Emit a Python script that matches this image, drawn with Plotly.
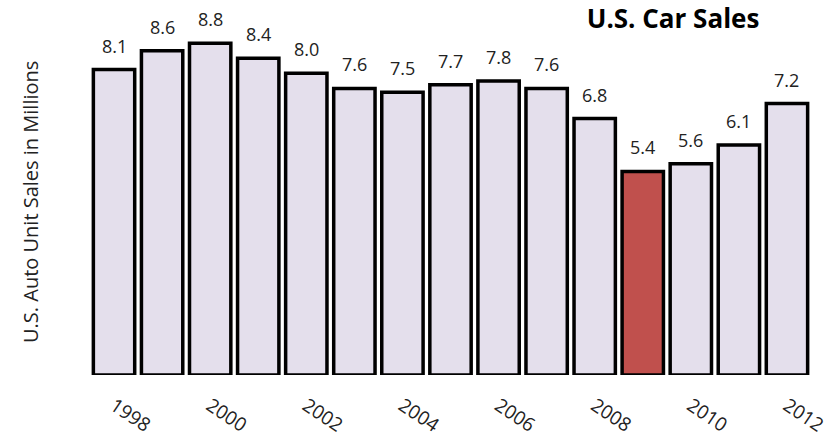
import plotly.graph_objects as go

years = list(range(1998, 2013))
sales = [8.1, 8.6, 8.8, 8.4, 8.0, 7.6, 7.5, 7.7, 7.8, 7.6, 6.8, 5.4, 5.6, 6.1, 7.2]
highlight_year = 2009
tick_years = [1998, 2000, 2002, 2004, 2006, 2008, 2010, 2012]

FONT = "Open Sans"
base_color = "#E4DFEC"
hi_color = "#C0504D"
colors = [hi_color if y == highlight_year else base_color for y in years]

fig = go.Figure(go.Bar(
    x=years, y=sales,
    marker=dict(color=colors, line=dict(color="black", width=3.5)),
    width=0.86,
    hoverinfo="x+y",
))

for y, v in zip(years, sales):
    fig.add_annotation(x=y, y=v, text=f"{v:.1f}", showarrow=False,
                       yanchor="middle", yshift=24,
                       font=dict(family=FONT, size=18, color="#222"))

fig.add_annotation(xref="paper", yref="paper", x=-0.104, y=0.5,
                   text="U.S. Auto Unit Sales in Millions", textangle=-90,
                   showarrow=False, font=dict(family=FONT, size=20, color="#222"))

fig.update_layout(
    width=833, height=438,
    margin=dict(l=90, r=22, t=30, b=63),
    paper_bgcolor="white", plot_bgcolor="white",
    showlegend=False,
    title=dict(text="<b>U.S. Car Sales</b>", x=0.808, y=0.957,
               xanchor="center", yanchor="middle",
               font=dict(family=FONT, size=26, color="black")),
    xaxis=dict(range=[1997.5, 2012.5], tickmode="array", tickvals=tick_years,
               ticktext=[str(t) for t in tick_years], tickangle=34,
               showgrid=False, zeroline=False, showline=False, ticks="",
               ticklabelstandoff=15, automargin=False,
               tickfont=dict(family=FONT, size=19, color="#222")),
    yaxis=dict(range=[0, 9.15], showticklabels=False, showgrid=False,
               zeroline=False, showline=False, ticks="", automargin=False),
)

# remove the default 8px page margin so the figure sits at the window's corner
fig.write_html("out.html",
               config={"displayModeBar": False},
               post_script="document.body.style.margin='0';document.documentElement.style.margin='0';")
